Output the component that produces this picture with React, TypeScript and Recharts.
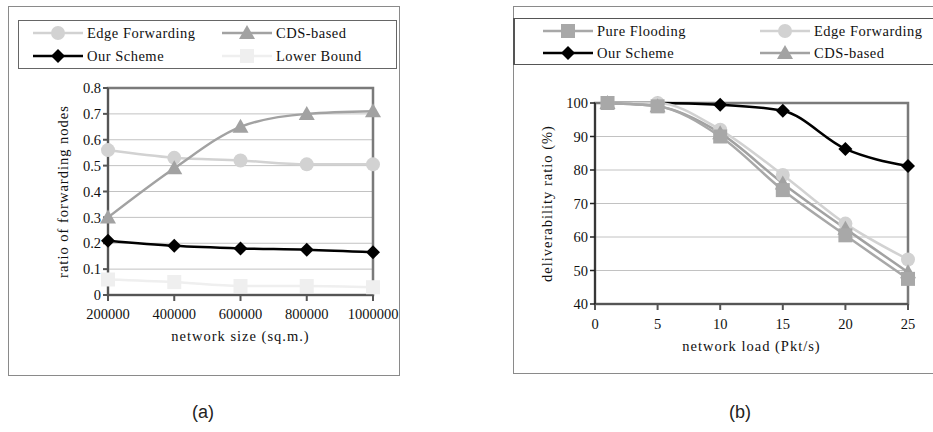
import React from "react";
import {
  LineChart,
  Line,
  XAxis,
  YAxis,
  CartesianGrid,
  ReferenceArea,
} from "recharts";

// ---------- Data: chart (a) ----------
const sizeCategories = [200000, 400000, 600000, 800000, 1000000];
const aEdgeForwarding = [0.56, 0.53, 0.52, 0.505, 0.505];
const aCdsBased = [0.3, 0.49, 0.65, 0.7, 0.71];
const aOurScheme = [0.21, 0.19, 0.18, 0.175, 0.165];
const aLowerBound = [0.06, 0.05, 0.035, 0.035, 0.03];
const aYTicks = [0, 0.1, 0.2, 0.3, 0.4, 0.5, 0.6, 0.7, 0.8];

// ---------- Data: chart (b) ----------
const loadCategories = [1, 5, 10, 15, 20, 25];
const bPureFlooding = [100, 99, 90, 74, 60.5, 47.5];
const bEdgeForwarding = [100, 100, 92, 78.5, 64, 53.3];
const bOurScheme = [100, 100, 99.5, 97.7, 86.3, 81.2];
const bCdsBased = [100, 99, 91, 76, 62.5, 49.5];
const bXTicks = [0, 5, 10, 15, 20, 25];
const bYTicks = [40, 50, 60, 70, 80, 90, 100];

const dataA = sizeCategories.map((x, i) => ({
  x,
  edge: aEdgeForwarding[i],
  cds: aCdsBased[i],
  our: aOurScheme[i],
  lower: aLowerBound[i],
}));

const dataB = loadCategories.map((x, i) => ({
  x,
  flood: bPureFlooding[i],
  edge: bEdgeForwarding[i],
  our: bOurScheme[i],
  cds: bCdsBased[i],
}));

const C_EDGE = "#d2d2d2";
const C_CDS = "#a2a2a2";
const C_FLOOD = "#a8a8a8";
const C_OUR = "#000000";
const C_LOWER = "#efefef";

const FONT = "'Liberation Serif', serif";

type Shape = "circle" | "triangle" | "diamond" | "square";

function Marker({ shape, cx, cy, color }: { shape: Shape; cx: number; cy: number; color: string }) {
  if (shape === "circle") return <circle cx={cx} cy={cy} r={7} fill={color} />;
  if (shape === "triangle")
    return (
      <polygon
        points={`${cx},${cy - 8} ${cx - 8},${cy + 6} ${cx + 8},${cy + 6}`}
        fill={color}
      />
    );
  if (shape === "diamond")
    return (
      <polygon
        points={`${cx},${cy - 7} ${cx + 7},${cy} ${cx},${cy + 7} ${cx - 7},${cy}`}
        fill={color}
      />
    );
  return <rect x={cx - 7} y={cy - 7} width={14} height={14} fill={color} />;
}

const makeDot = (shape: Shape, color: string) => (props: any) => {
  const { cx, cy, index } = props;
  if (cx == null || cy == null) return <g key={`n-${index}`} />;
  return (
    <g key={`d-${shape}-${index}`}>
      <Marker shape={shape} cx={cx} cy={cy} color={color} />
    </g>
  );
};

const legendA = [
  { name: "Edge Forwarding", shape: "circle" as Shape, color: C_EDGE },
  { name: "CDS-based", shape: "triangle" as Shape, color: C_CDS },
  { name: "Our Scheme", shape: "diamond" as Shape, color: C_OUR },
  { name: "Lower Bound", shape: "square" as Shape, color: C_LOWER },
];
const legendB = [
  { name: "Pure Flooding", shape: "square" as Shape, color: C_FLOOD },
  { name: "Edge Forwarding", shape: "circle" as Shape, color: C_EDGE },
  { name: "Our Scheme", shape: "diamond" as Shape, color: C_OUR },
  { name: "CDS-based", shape: "triangle" as Shape, color: C_CDS },
];

function LegendItem({
  item,
  left,
  top,
}: {
  item: { name: string; shape: Shape; color: string };
  left: number;
  top: number;
}) {
  return (
    <div style={{ position: "absolute", left, top: top - 10, height: 20, display: "flex", alignItems: "center" }}>
      <svg width={54} height={20} style={{ display: "block" }}>
        <line x1={0} y1={10} x2={50} y2={10} stroke={item.color} strokeWidth={2.5} />
        <Marker shape={item.shape} cx={25} cy={10} color={item.color} />
      </svg>
      <span style={{ fontFamily: FONT, fontSize: 14.5, letterSpacing: 0.5, color: "#111", whiteSpace: "nowrap" }}>
        {item.name}
      </span>
    </div>
  );
}

const tickStyle = { fontFamily: FONT, fontSize: 14.5, fill: "#111" };
const labelStyle = { fontFamily: FONT, fontSize: 14.5, fill: "#111", letterSpacing: 1 };

export default function App() {
  return (
    <div
      style={{
        position: "absolute",
        left: 0,
        top: 0,
        width: 933,
        height: 432,
        background: "#fff",
        overflow: "hidden",
        fontFamily: FONT,
      }}
    >
      {/* Panel (a) frame */}
      <div
        style={{
          position: "absolute",
          left: 8,
          top: 6,
          width: 390,
          height: 368,
          border: "1px solid #8a8a8a",
        }}
      />
      <div
        style={{
          position: "absolute",
          left: 18,
          top: 20,
          width: 377,
          height: 47,
          border: "1px solid #666",
        }}
      />
      <LegendItem item={legendA[0]} left={33} top={33} />
      <LegendItem item={legendA[1]} left={222} top={33} />
      <LegendItem item={legendA[2]} left={33} top={56} />
      <LegendItem item={legendA[3]} left={222} top={56} />

      {/* Panel (b) frame */}
      <div
        style={{
          position: "absolute",
          left: 513,
          top: 6,
          width: 440,
          height: 366,
          border: "1px solid #8a8a8a",
        }}
      />
      <div
        style={{
          position: "absolute",
          left: 513,
          top: 18,
          width: 440,
          height: 45,
          border: "1px solid #555",
          borderLeftWidth: 2,
        }}
      />
      <LegendItem item={legendB[0]} left={543} top={31} />
      <LegendItem item={legendB[1]} left={760} top={31} />
      <LegendItem item={legendB[2]} left={543} top={53} />
      <LegendItem item={legendB[3]} left={760} top={53} />

      {/* Chart (a) */}
      <div style={{ position: "absolute", left: 0, top: 0 }}>
        <LineChart
          width={400}
          height={370}
          data={dataA}
          margin={{ top: 88, right: 27, bottom: 25, left: 57 }}
        >
          <CartesianGrid horizontal vertical={false} stroke="#c2c2c2" strokeWidth={1} />
          <ReferenceArea
            x1={200000}
            x2={1000000}
            y1={0}
            y2={0.8}
            fill="none"
            stroke="#7a7a7a"
            strokeWidth={2.5}
            fillOpacity={0}
          />
          <XAxis
            dataKey="x"
            type="number"
            domain={[200000, 1000000]}
            ticks={sizeCategories}
            tick={tickStyle}
            tickSize={6}
            tickMargin={8}
            stroke="#555"
            strokeWidth={2}
            height={50}
            interval={0}
            label={{ value: "network size (sq.m.)", position: "insideBottom", offset: 4, style: labelStyle }}
          />
          <YAxis
            type="number"
            domain={[0, 0.8]}
            ticks={aYTicks}
            tickFormatter={(v: number) => (v === 0 ? "0" : v.toFixed(1))}
            tick={tickStyle}
            tickSize={5}
            tickMargin={2}
            stroke="#555"
            strokeWidth={2}
            width={51}
            interval={0}
            label={{
              value: "ratio of forwarding nodes",
              angle: -90,
              position: "insideLeft",
              offset: 6,
              style: { ...labelStyle, textAnchor: "middle" },
            }}
          />
          <Line
            type="monotone"
            dataKey="lower"
            stroke={C_LOWER}
            strokeWidth={2.5}
            dot={makeDot("square", C_LOWER)}
            isAnimationActive={false}
          />
          <Line
            type="monotone"
            dataKey="edge"
            stroke={C_EDGE}
            strokeWidth={2.5}
            dot={makeDot("circle", C_EDGE)}
            isAnimationActive={false}
          />
          <Line
            type="monotone"
            dataKey="cds"
            stroke={C_CDS}
            strokeWidth={2.5}
            dot={makeDot("triangle", C_CDS)}
            isAnimationActive={false}
          />
          <Line
            type="monotone"
            dataKey="our"
            stroke={C_OUR}
            strokeWidth={2.5}
            dot={makeDot("diamond", C_OUR)}
            isAnimationActive={false}
          />
        </LineChart>
      </div>

      {/* Chart (b) */}
      <div style={{ position: "absolute", left: 500, top: 0 }}>
        <LineChart
          width={433}
          height={380}
          data={dataB}
          margin={{ top: 103, right: 25, bottom: 26, left: 40 }}
        >
          <CartesianGrid horizontal vertical={false} stroke="#c2c2c2" strokeWidth={1} />
          <ReferenceArea
            x1={0}
            x2={25}
            y1={40}
            y2={100}
            fill="none"
            stroke="#7a7a7a"
            strokeWidth={2.5}
            fillOpacity={0}
          />
          <XAxis
            dataKey="x"
            type="number"
            domain={[0, 25]}
            ticks={bXTicks}
            tick={tickStyle}
            tickSize={6}
            tickMargin={9}
            stroke="#555"
            strokeWidth={2}
            height={50}
            interval={0}
            label={{ value: "network load (Pkt/s)", position: "insideBottom", offset: 3, style: labelStyle }}
          />
          <YAxis
            type="number"
            domain={[40, 100]}
            ticks={bYTicks}
            tick={tickStyle}
            tickSize={5}
            tickMargin={2}
            stroke="#222"
            strokeWidth={1.5}
            width={55}
            interval={0}
            label={{
              value: "deliverability ratio (%)",
              angle: -90,
              position: "insideLeft",
              offset: 7,
              style: { ...labelStyle, textAnchor: "middle" },
            }}
          />
          <Line
            type="monotone"
            dataKey="our"
            stroke={C_OUR}
            strokeWidth={2.5}
            dot={makeDot("diamond", C_OUR)}
            isAnimationActive={false}
          />
          <Line
            type="monotone"
            dataKey="edge"
            stroke={C_EDGE}
            strokeWidth={2.5}
            dot={makeDot("circle", C_EDGE)}
            isAnimationActive={false}
          />
          <Line
            type="monotone"
            dataKey="cds"
            stroke={C_CDS}
            strokeWidth={2.5}
            dot={makeDot("triangle", C_CDS)}
            isAnimationActive={false}
          />
          <Line
            type="monotone"
            dataKey="flood"
            stroke={C_FLOOD}
            strokeWidth={2.5}
            dot={makeDot("square", C_FLOOD)}
            isAnimationActive={false}
          />
        </LineChart>
      </div>

      {/* Sub-figure captions */}
      <div
        style={{
          position: "absolute",
          left: 203,
          top: 412,
          transform: "translate(-50%, -50%)",
          fontFamily: "'Liberation Sans', Arial, sans-serif",
          fontSize: 18,
          color: "#222",
        }}
      >
        (a)
      </div>
      <div
        style={{
          position: "absolute",
          left: 740,
          top: 412,
          transform: "translate(-50%, -50%)",
          fontFamily: "'Liberation Sans', Arial, sans-serif",
          fontSize: 18,
          color: "#222",
        }}
      >
        (b)
      </div>
    </div>
  );
}
